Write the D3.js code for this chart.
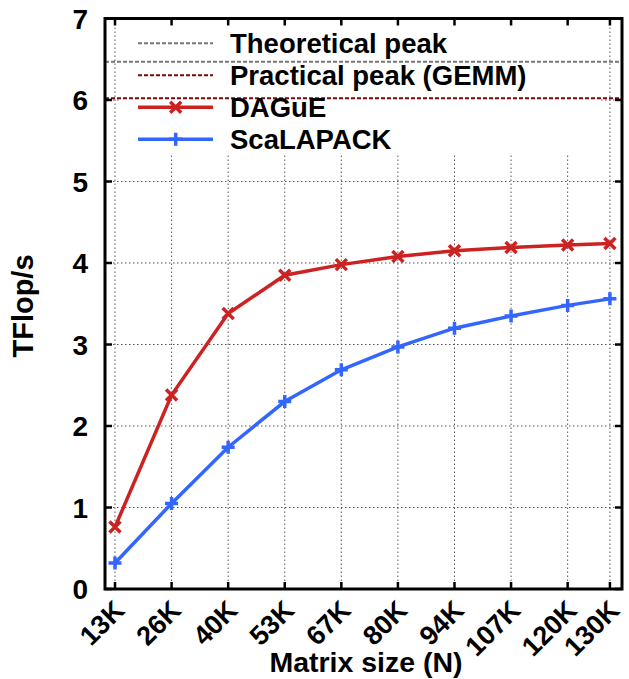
<!DOCTYPE html>
<html><head><meta charset="utf-8">
<script src="https://cdn.jsdelivr.net/npm/d3@7"></script>
<style>body{margin:0;background:#fff}svg{display:block}text{font-family:"Liberation Sans",Arial,sans-serif;font-weight:bold;fill:#000}</style>
</head><body>
<script>
const sizeLabels = ["13K","26K","40K","53K","67K","80K","94K","107K","120K","130K"];
const sizeValues = [13.44,26.88,40.32,53.76,67.2,80.64,94.08,107.52,120.96,131];
const dagueValues = [0.76,2.38,3.38,3.85,3.98,4.08,4.15,4.19,4.22,4.24];
const scalapackValues = [0.32,1.05,1.74,2.30,2.69,2.97,3.20,3.35,3.48,3.56];
const theoreticalPeak = 6.47;
const practicalPeak = 6.02;
const yTicks = [0,1,2,3,4,5,6,7];
const legendNames = ["Theoretical peak","Practical peak (GEMM)","DAGuE","ScaLAPACK"];

const W=629,H=679;
const svg=d3.select("body").append("svg").attr("width",W).attr("height",H);
const L=105,R=622,T=18.5,B=589;
const x=d3.scaleLinear().domain([11.065,133.87]).range([L,R]);
const y=d3.scaleLinear().domain([0,7]).range([B,T]);

svg.append("defs").append("clipPath").attr("id","clip").append("rect")
  .attr("x",L).attr("y",T).attr("width",R-L).attr("height",B-T);

// grid
const grid=svg.append("g").attr("stroke","#555").attr("stroke-width",1).attr("stroke-dasharray","1.5,2.5");
grid.selectAll("line.v").data(sizeValues).join("line")
  .attr("x1",d=>x(d)).attr("x2",d=>x(d)).attr("y1",B).attr("y2",T);
grid.selectAll("line.h").data(yTicks.slice(1,7)).join("line")
  .attr("x1",L).attr("x2",R).attr("y1",d=>y(d)).attr("y2",d=>y(d));

// legend background
svg.append("rect").attr("x",119).attr("y",T+2).attr("width",480).attr("height",155-T-2).attr("fill","#fff");

// peaks
svg.append("line").attr("x1",L).attr("x2",R).attr("y1",y(theoreticalPeak)).attr("y2",y(theoreticalPeak))
  .attr("stroke","#777").attr("stroke-width",2).attr("stroke-dasharray","4,2");
svg.append("line").attr("x1",L).attr("x2",R).attr("y1",y(practicalPeak)).attr("y2",y(practicalPeak))
  .attr("stroke","#7a0a0a").attr("stroke-width",2).attr("stroke-dasharray","4,2");

const red="#cc2222", blue="#3366ff";
const line=d3.line().x(d=>x(d[0])).y(d=>y(d[1]));
const plot=svg.append("g").attr("clip-path","url(#clip)");
const dData=sizeValues.map((v,i)=>[v,dagueValues[i]]);
const sData=sizeValues.map((v,i)=>[v,scalapackValues[i]]);
plot.append("path").datum(sData).attr("d",line).attr("fill","none").attr("stroke",blue).attr("stroke-width",3.5);
plot.append("path").datum(dData).attr("d",line).attr("fill","none").attr("stroke",red).attr("stroke-width",3.5);

function cross(g,cx,cy,c){ // X marker
  const s=5.5;
  g.append("path").attr("d",`M${cx-s},${cy-s}L${cx+s},${cy+s}M${cx-s},${cy+s}L${cx+s},${cy-s}`)
   .attr("stroke",c).attr("stroke-width",3.5).attr("fill","none");
}
function plus(g,cx,cy,c){
  const s=6.5;
  g.append("path").attr("d",`M${cx-s},${cy}L${cx+s},${cy}M${cx},${cy-s}L${cx},${cy+s}`)
   .attr("stroke",c).attr("stroke-width",3.5).attr("fill","none");
}
sData.forEach(d=>plus(plot,x(d[0]),y(d[1]),blue));
dData.forEach(d=>cross(plot,x(d[0]),y(d[1]),red));

// legend
const legY=[43.3,75.3,107.3,139.3];
const legStyles=[{c:"#777",dash:"4,2",w:2},{c:"#7a0a0a",dash:"4,2",w:2},{c:red,w:3.5},{c:blue,w:3.5}];
const lg=svg.append("g");
legendNames.forEach((n,i)=>{
  const st=legStyles[i];
  lg.append("line").attr("x1",138).attr("x2",213).attr("y1",legY[i]).attr("y2",legY[i])
    .attr("stroke",st.c).attr("stroke-width",st.w).attr("stroke-dasharray",st.dash||null);
  if(i===2) cross(lg,175.7,legY[i],red);
  if(i===3) plus(lg,175.7,legY[i],blue);
  lg.append("text").attr("x",230).attr("y",legY[i]+10).attr("font-size",27.5).text(n);
});

// frame
svg.append("rect").attr("x",L).attr("y",T).attr("width",R-L).attr("height",B-T)
  .attr("fill","none").attr("stroke","#000").attr("stroke-width",3);
// ticks
const tk=svg.append("g").attr("stroke","#000").attr("stroke-width",2.5);
tk.selectAll("line.b").data(sizeValues).join("line").attr("x1",d=>x(d)).attr("x2",d=>x(d)).attr("y1",B).attr("y2",B-7);
tk.selectAll("line.t").data(sizeValues).join("line").attr("x1",d=>x(d)).attr("x2",d=>x(d)).attr("y1",T).attr("y2",T+7);
tk.selectAll("line.l").data(yTicks).join("line").attr("x1",L).attr("x2",L+7).attr("y1",d=>y(d)).attr("y2",d=>y(d));
tk.selectAll("line.r").data(yTicks).join("line").attr("x1",R).attr("x2",R-7).attr("y1",d=>y(d)).attr("y2",d=>y(d));

// tick labels
svg.selectAll("text.yl").data(yTicks).join("text").attr("class","yl")
  .attr("x",88).attr("y",d=>y(d)+10).attr("text-anchor","end").attr("font-size",28).text(d=>d);
svg.selectAll("text.xl").data(sizeValues).join("text").attr("class","xl")
  .attr("transform",d=>`translate(${x(d)+11},612) rotate(-45)`).attr("text-anchor","end").attr("font-size",27)
  .text((d,i)=>sizeLabels[i]);

svg.append("text").attr("x",366).attr("y",672).attr("text-anchor","middle").attr("font-size",28.5).text("Matrix size (N)");
svg.append("text").attr("transform","translate(33,306) rotate(-90)").attr("text-anchor","middle").attr("font-size",29).text("TFlop/s");
</script>
</body></html>
